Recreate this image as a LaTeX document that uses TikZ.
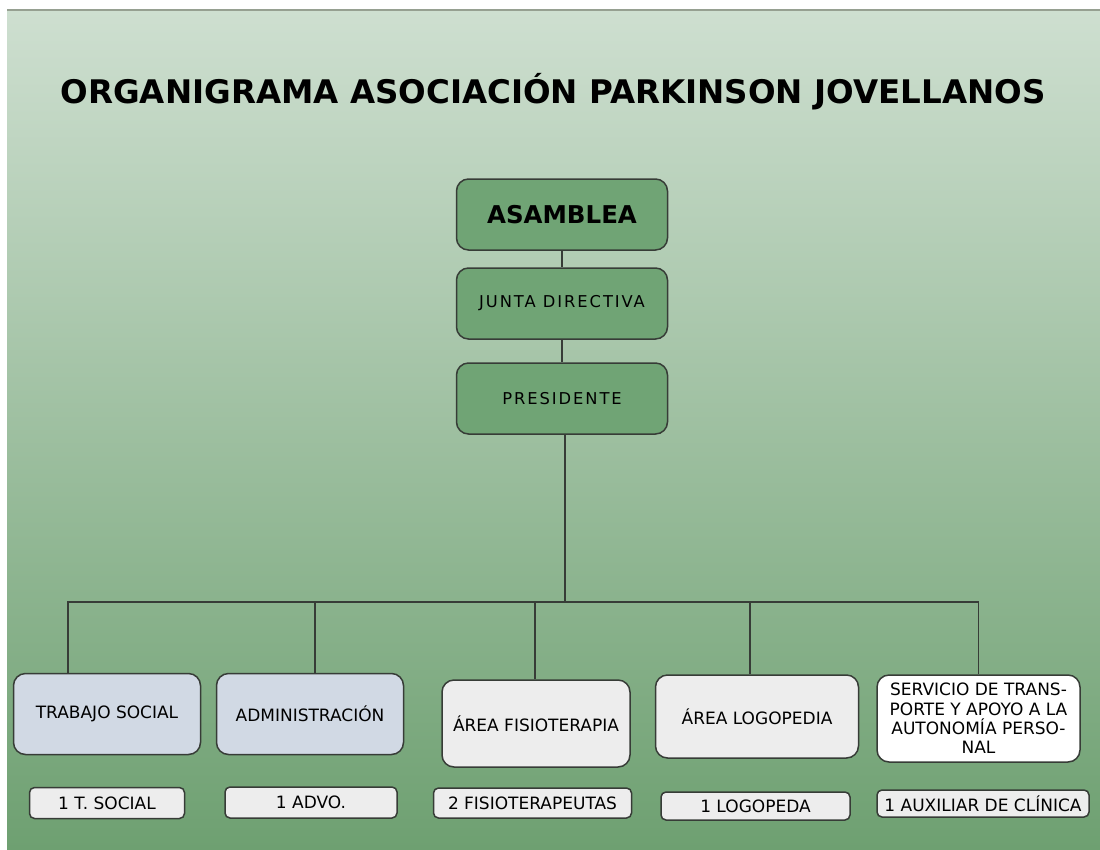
\documentclass[tikz,border=0pt]{standalone}
\usepackage{fontspec}
\setmainfont{DejaVu Sans}
\newfontfamily\spacedfont[LetterSpace=12]{DejaVu Sans}
\definecolor{bgtop}{RGB}{206,223,208}
\definecolor{bgmid}{RGB}{163,196,165}
\definecolor{bgbot}{RGB}{110,160,113}
\definecolor{topgreen}{RGB}{112,164,117}
\definecolor{bluegrey}{RGB}{209,217,228}
\definecolor{lightgrey}{RGB}{237,237,237}
\definecolor{boxline}{RGB}{55,60,55}
\definecolor{edgegrey}{RGB}{150,160,145}
\begin{document}
\begin{tikzpicture}[x=1pt,y=-1pt,
  box/.style={draw=boxline, line width=1.5pt, rounded corners=12pt, inner sep=0pt, align=center, text=black},
  topbox/.style={box, fill=topgreen, minimum width=211pt, minimum height=71pt},
  unit/.style={box, font=\fontsize{17}{19.3}\selectfont},
  tag/.style={draw=boxline, line width=1.5pt, rounded corners=5pt, fill=lightgrey, inner sep=0pt, text=black, font=\fontsize{17}{19}\selectfont},
  conn/.style={draw=boxline, line width=1.5pt}]
\useasboundingbox (0,0) rectangle (1100,849);
\shade[top color=bgtop, middle color=bgmid, bottom color=bgbot] (7,10) rectangle (1100,849);
\draw[edgegrey, line width=2pt] (7,10) -- (1100,10);

\node[font=\bfseries\fontsize{32.5}{38}\selectfont] (title) at (553,92) {ORGANIGRAMA ASOCIACIÓN PARKINSON JOVELLANOS};

\node[topbox, font=\bfseries\fontsize{24.5}{28}\selectfont] (asamblea) at (562,214.5) {ASAMBLEA};
\node[topbox, font=\spacedfont\fontsize{16.3}{19}\selectfont] (junta) at (562,303.5) {JUNTA DIRECTIVA};
\node[topbox, font=\spacedfont\fontsize{16.3}{19}\selectfont] (presidente) at (562,398.5) {PRESIDENTE};

\node[unit, fill=bluegrey, minimum width=187pt, minimum height=81pt] (ts) at (107,714) {TRABAJO SOCIAL};
\node[unit, fill=bluegrey, minimum width=187pt, minimum height=81pt] (adm) at (310,714) {ADMINISTRACIÓN};
\node[unit, fill=lightgrey, minimum width=188pt, minimum height=87pt] (fis) at (536,723.5) {ÁREA FISIOTERAPIA};
\node[unit, fill=lightgrey, minimum width=203pt, minimum height=83pt] (log) at (757,716.5) {ÁREA LOGOPEDIA};
\node[unit, fill=white, minimum width=203pt, minimum height=87pt] (serv) at (978.5,718.5) {SERVICIO DE TRANS-\\PORTE Y APOYO A LA\\AUTONOMÍA PERSO-\\NAL};

\node[tag, minimum width=155pt, minimum height=31pt] (tts) at (107,803) {1 T. SOCIAL};
\node[tag, minimum width=172pt, minimum height=31pt] (tadm) at (311,802.5) {1 ADVO.};
\node[tag, minimum width=198pt, minimum height=30pt] (tfis) at (532.5,803) {2 FISIOTERAPEUTAS};
\node[tag, minimum width=189pt, minimum height=28pt] (tlog) at (755.5,806) {1 LOGOPEDA};
\node[tag, minimum width=212pt, minimum height=27pt] (tserv) at (983,803.5) {1 AUXILIAR DE CLÍNICA};

\coordinate (bus) at (565,602);
\draw[conn] (asamblea.south) -- (junta.north);
\draw[conn] (junta.south) -- (presidente.north);
\draw[conn] ([xshift=3pt]presidente.south) -- (bus);
\draw[conn] ([xshift=-39pt]ts.north) |- (bus) -| (serv.north);
\draw[conn] ([xshift=5pt]adm.north) -- ([xshift=5pt]adm.north |- bus);
\draw[conn] ([xshift=-1pt]fis.north) -- ([xshift=-1pt]fis.north |- bus);
\draw[conn] ([xshift=-7pt]log.north) -- ([xshift=-7pt]log.north |- bus);
\end{tikzpicture}
\end{document}
